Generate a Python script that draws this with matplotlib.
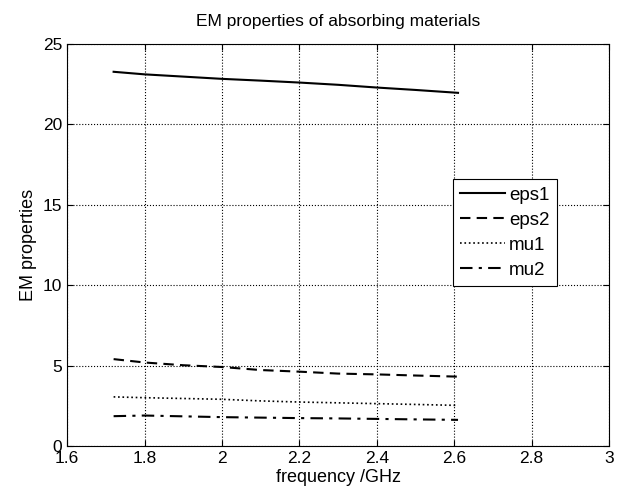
import numpy as np
import matplotlib
matplotlib.use('Agg')
import matplotlib.pyplot as plt

plt.rcParams['font.family'] = ['Liberation Sans', 'DejaVu Sans']

freq = [1.72, 1.8, 1.9, 2.0, 2.1, 2.2, 2.3, 2.4, 2.5, 2.61]
eps1 = [23.28, 23.12, 22.98, 22.84, 22.73, 22.61, 22.47, 22.30, 22.15, 21.97]
eps2 = [5.40, 5.19, 5.02, 4.91, 4.72, 4.62, 4.50, 4.45, 4.38, 4.31]
mu1 = [3.05, 3.00, 2.95, 2.90, 2.80, 2.73, 2.68, 2.63, 2.58, 2.52]
mu2 = [1.85, 1.89, 1.84, 1.79, 1.76, 1.73, 1.71, 1.68, 1.65, 1.62]

fig = plt.figure(figsize=(6.22, 4.96), dpi=100)
ax = fig.add_axes([0.108, 0.101, 0.871, 0.81])

ax.plot(freq, eps1, 'k-', lw=1.5, label='eps1')
ax.plot(freq, eps2, 'k--', lw=1.5, dashes=(5, 3), label='eps2')
ax.plot(freq, mu1, 'k:', lw=1.2, label='mu1')
ax.plot(freq, mu2, 'k-.', lw=1.5, dashes=(6, 3, 1.5, 3), label='mu2')

ax.set_xlim(1.6, 3)
ax.set_ylim(0, 25)
ax.set_xticks([1.6, 1.8, 2, 2.2, 2.4, 2.6, 2.8, 3])
ax.set_xticklabels(['1.6', '1.8', '2', '2.2', '2.4', '2.6', '2.8', '3'])
ax.set_yticks([0, 5, 10, 15, 20, 25])
ax.tick_params(direction='in', top=True, right=True, labelsize=12.5, length=4)
ax.grid(True, linestyle=':', color='k', lw=0.8)
for s in ax.spines.values():
    s.set_linewidth(0.8)

ax.set_title('EM properties of absorbing materials', fontsize=12.5, pad=13)
ax.set_xlabel('frequency /GHz', fontsize=13, labelpad=2)
ax.set_ylabel('EM properties', fontsize=13, labelpad=4)

leg = ax.legend(loc='upper left', bbox_to_anchor=(0.712, 0.664), fontsize=13.5,
                fancybox=False, framealpha=1, edgecolor='k', handlelength=2.4,
                handletextpad=0.2, borderpad=0.4, labelspacing=0.42,
                borderaxespad=0)
leg.get_frame().set_linewidth(0.8)

plt.savefig('out.png', dpi=100)
